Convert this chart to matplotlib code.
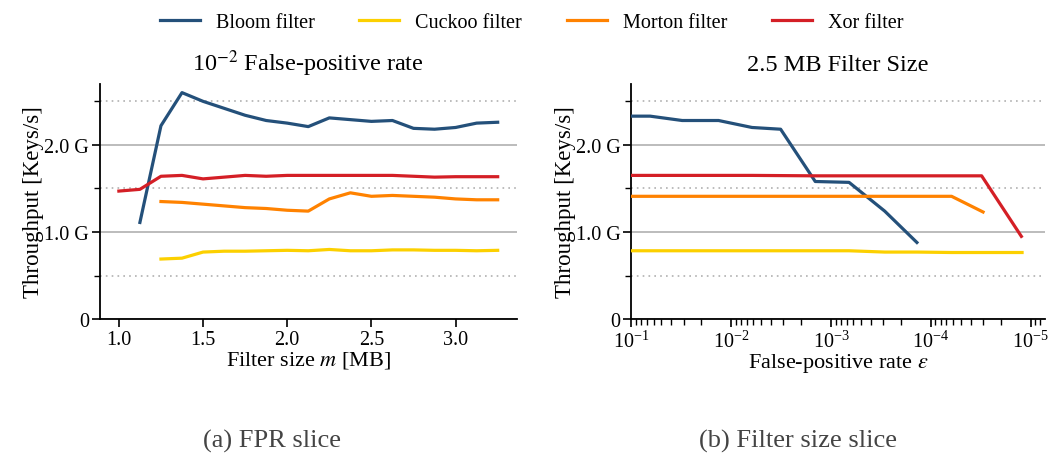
import numpy as np
import matplotlib
matplotlib.use("Agg")
import matplotlib.pyplot as plt
from matplotlib.ticker import FixedLocator, FuncFormatter, NullFormatter, LogLocator

plt.rcParams['font.family'] = ['Liberation Serif', 'DejaVu Serif']
plt.rcParams['mathtext.fontset'] = 'stix'
plt.rcParams['font.size'] = 14.5

# series names / colours
names = ["Bloom filter", "Cuckoo filter", "Morton filter", "Xor filter"]
colors = ["#24507a", "#fcd000", "#ff8200", "#d41f26"]

# (a) FPR slice: filter size m [MB] vs throughput [G keys/s]
size_bloom = [1.125, 1.25, 1.375, 1.5, 1.625, 1.75, 1.875, 2.0, 2.125, 2.25,
              2.375, 2.5, 2.625, 2.75, 2.875, 3.0, 3.125, 3.25]
tp_bloom = [1.11, 2.22, 2.60, 2.50, 2.42, 2.34, 2.28, 2.25, 2.21, 2.31,
            2.29, 2.27, 2.28, 2.19, 2.18, 2.20, 2.25, 2.26]
size_cuckoo = [1.25, 1.375, 1.5, 1.625, 1.75, 1.875, 2.0, 2.125, 2.25,
               2.375, 2.5, 2.625, 2.75, 2.875, 3.0, 3.125, 3.25]
tp_cuckoo = [0.69, 0.70, 0.77, 0.78, 0.78, 0.785, 0.79, 0.785, 0.80,
             0.785, 0.785, 0.795, 0.795, 0.79, 0.79, 0.785, 0.79]
size_morton = size_cuckoo
tp_morton = [1.35, 1.34, 1.32, 1.30, 1.28, 1.27, 1.25, 1.24, 1.38,
             1.45, 1.41, 1.42, 1.41, 1.40, 1.38, 1.37, 1.37]
size_xor = [1.0, 1.125, 1.25, 1.375, 1.5, 1.625, 1.75, 1.875, 2.0, 2.125,
            2.25, 2.375, 2.5, 2.625, 2.75, 2.875, 3.0, 3.125, 3.25]
tp_xor = [1.47, 1.49, 1.64, 1.65, 1.61, 1.63, 1.65, 1.64, 1.65, 1.65,
          1.65, 1.65, 1.65, 1.65, 1.64, 1.63, 1.635, 1.635, 1.635]

# (b) Filter size slice: false-positive rate vs throughput
fpr_bloom = [0.1, 0.065, 0.031, 0.0134, 0.0062, 0.0032, 0.00144, 0.00066, 0.00029, 0.000138]
tpb_bloom = [2.33, 2.33, 2.28, 2.28, 2.20, 2.18, 1.58, 1.57, 1.24, 0.88]
fpr_cuckoo = [0.1, 0.031, 0.0062, 0.00144, 0.00066, 0.00029, 0.000138, 6.2e-5, 1.22e-5]
tpb_cuckoo = [0.785, 0.785, 0.785, 0.785, 0.785, 0.77, 0.77, 0.765, 0.765]
fpr_morton = [0.1, 0.031, 0.0062, 0.00144, 0.00029, 6.2e-5, 3.0e-5]
tpb_morton = [1.41, 1.41, 1.41, 1.41, 1.41, 1.41, 1.23]
fpr_xor = [0.1, 0.031, 0.0062, 0.00144, 0.00029, 6.5e-5, 3.1e-5, 1.24e-5]
tpb_xor = [1.65, 1.65, 1.65, 1.645, 1.645, 1.645, 1.645, 0.95]

fig = plt.figure(figsize=(10.63, 4.64), dpi=100)
ax1 = fig.add_axes([0.094, 0.31, 0.392, 0.507])
ax2 = fig.add_axes([0.594, 0.31, 0.389, 0.507])

left_data = [(size_bloom, tp_bloom), (size_cuckoo, tp_cuckoo),
             (size_morton, tp_morton), (size_xor, tp_xor)]
right_data = [(fpr_bloom, tpb_bloom), (fpr_cuckoo, tpb_cuckoo),
              (fpr_morton, tpb_morton), (fpr_xor, tpb_xor)]

for (x, y), c, n in zip(left_data, colors, names):
    ax1.plot(x, y, color=c, lw=2.3, label=n, zorder=3)
for (x, y), c in zip(right_data, colors):
    ax2.plot(x, y, color=c, lw=2.3, zorder=3)


def gfmt(v, pos):
    return "0" if v == 0 else "%.1f G" % v


for ax in (ax1, ax2):
    ax.set_ylim(0, 2.7)
    ax.yaxis.set_major_locator(FixedLocator([0, 1.0, 2.0]))
    ax.yaxis.set_minor_locator(FixedLocator([0.5, 1.5, 2.5]))
    ax.yaxis.set_major_formatter(FuncFormatter(gfmt))
    ax.grid(axis='y', which='major', color='#b0b0b0', lw=1.2, zorder=1)
    ax.grid(axis='y', which='minor', color='#b0b0b0', lw=1.2, ls=(0, (1, 2.5)), zorder=1)
    ax.spines['top'].set_visible(False)
    ax.spines['right'].set_visible(False)
    ax.spines['left'].set_linewidth(1.3)
    ax.spines['bottom'].set_linewidth(1.3)
    ax.tick_params(which='major', length=6, width=1.2, pad=2)
    ax.tick_params(which='minor', length=4, width=1.0)
    ax.set_ylabel("Throughput [Keys/s]", fontsize=16.5, labelpad=0)

ax1.set_xticks([1.0, 1.5, 2.0, 2.5, 3.0])
ax1.set_xlabel("Filter size $m$ [MB]", fontsize=16, labelpad=0)
ax1.set_title("10$^{-2}$ False-positive rate", fontsize=17.5, pad=10)

ax2.set_xscale('log')
ax2.set_xlim(0.1, 7.2e-6)
ax2.xaxis.set_major_locator(LogLocator(base=10, numticks=10))
ax2.xaxis.set_minor_locator(LogLocator(base=10, subs=np.arange(2, 10), numticks=20))
ax2.xaxis.set_minor_formatter(NullFormatter())
ax2.set_xlabel("False-positive rate $\\varepsilon$", fontsize=16, labelpad=0)
ax2.set_title("2.5 MB Filter Size", fontsize=17.5, pad=10)

fig.legend(loc='upper center', ncol=4, frameon=False, bbox_to_anchor=(0.5, 1.01),
           handlelength=2.0, columnspacing=2.2, fontsize=14.5)

fig.text(0.256, 0.035, "(a) FPR slice", ha='center', fontsize=19, color='#444444')
fig.text(0.751, 0.035, "(b) Filter size slice", ha='center', fontsize=19, color='#444444')

fig.savefig("out.png", dpi=100)
